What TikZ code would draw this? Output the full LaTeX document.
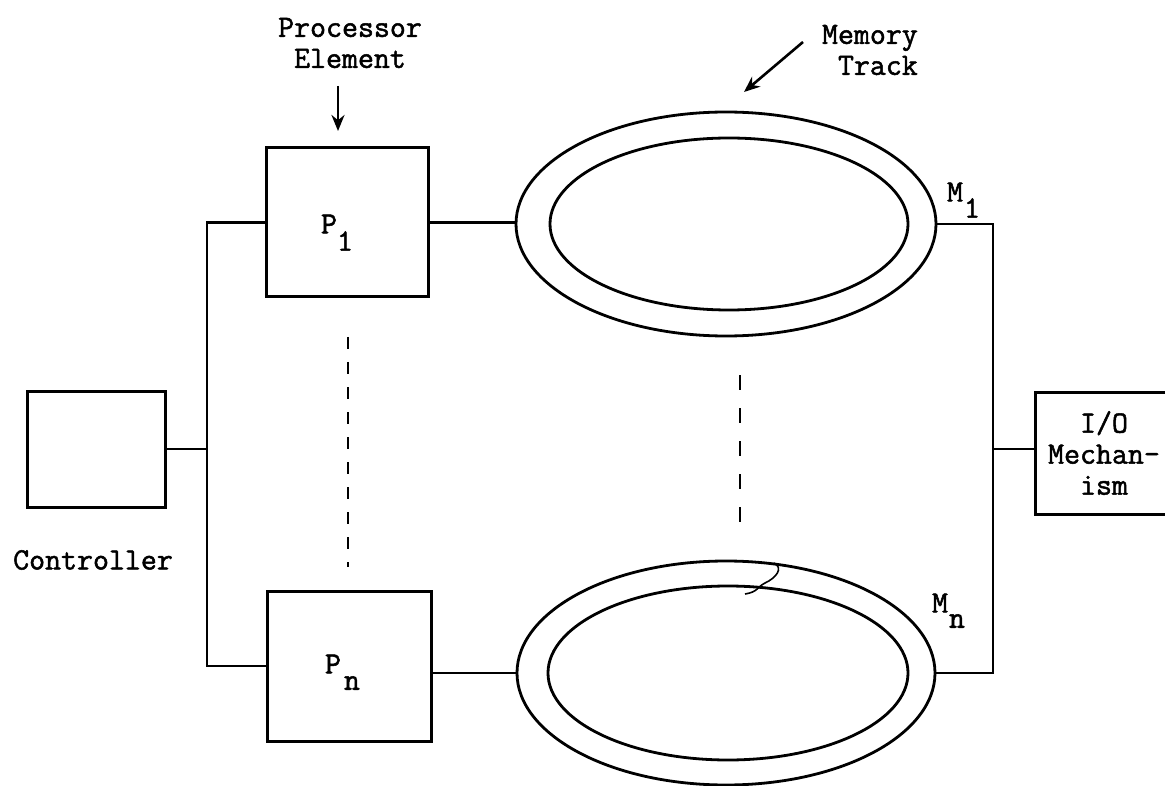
\documentclass[tikz,border=0pt]{standalone}
\usepackage{fontspec}
\newfontfamily\tw[FakeBold=1.6]{Latin Modern Mono}
\usetikzlibrary{shapes.geometric,arrows.meta}
\begin{document}
\begin{tikzpicture}[x=1pt,y=-1pt,
  box/.style={draw,line width=3pt,rectangle,inner sep=0pt},
  wire/.style={line width=2.5pt},
  trk/.style={draw,ellipse,line width=2.8pt,inner sep=0pt},
  txt/.style={font=\tw\fontsize{31}{31}\selectfont,inner sep=0pt},
  dots/.style={line width=2.8pt,dash pattern=on 12pt off 13pt},
  lbl/.style={-{Stealth[length=16pt,width=13pt]},line width=2.6pt}]
\useasboundingbox (0,0) rectangle (1165,786);
\clip (0,0) rectangle (1165,786);
% boxes
\node[box,minimum width=138pt,minimum height=116pt] (C) at (96,449) {};
\node[box,minimum width=162pt,minimum height=149pt] (P1) at (347,222.5) {};
\node[box,minimum width=164pt,minimum height=150pt] (Pn) at (349,666) {};
\node[box,minimum width=140pt,minimum height=122pt] (IO) at (1105,453) {};
% memory tracks
\node[trk,minimum width=420pt,minimum height=224pt] (M1o) at (726,224) {};
\node[trk,minimum width=358pt,minimum height=172pt] (M1i) at (729,224) {};
\node[trk,minimum width=418pt,minimum height=224pt] (Mno) at (726,673) {};
\node[trk,minimum width=360pt,minimum height=174pt] (Mni) at (728,673) {};
% bus coordinates
\coordinate (lbx) at (207,0);
\coordinate (rbx) at (993,0);
% wiring
\draw[wire] (P1.west) -- (P1.west -| lbx) -- (Pn.west -| lbx) -- (Pn.west);
\draw[wire] (C.east) -- (C.east -| lbx);
\draw[wire] (P1.east) -- (P1.east -| M1o.west);
\draw[wire] (Mno.west -| Pn.east) -- (Mno.west);
\draw[wire] (M1o.east) -- (M1o.east -| rbx) -- (Mno.east -| rbx) -- (Mno.east);
\draw[wire] (IO.west |- C.east) -- (C.east -| rbx);
% dashed continuation lines
\coordinate (d1a) at (348,337);
\coordinate (d1b) at (348,567);
\coordinate (d2a) at (740,375);
\coordinate (d2b) at (740,533);
\draw[dots] (d1a) -- (d1b);
\draw[dots,dash pattern=on 15pt off 18pt] (d2a) -- (d2b);
% scan crack on lower track
\coordinate (k1) at (774,563);
\coordinate (k2) at (745,594);
\draw[line width=1.6pt] (k1) .. controls (784,568) and (776,578) .. (765,583)
  .. controls (757,587) and (758,592) .. (k2);
% labels
\node[txt,align=center] (tPE) at (350,43) {Processor\\Element};
\node[txt,align=right,anchor=east] (tMT) at (918,50) {Memory\\Track};
\coordinate (aPEs) at (338,86);
\coordinate (aPEe) at (338,131);
\draw[lbl] (aPEs) -- (aPEe);
\coordinate (aMTs) at (803,42);
\coordinate (aMTe) at (744,92);
\draw[lbl] (aMTs) -- (aMTe);
\node[txt] (tC) at (93,560) {Controller};
\node[txt,align=center] (tIO) at (1104,453) {I/O\\Mechan-\\ism};
\node[txt] (tP1) at (329,224) {P};
\node[txt] (tP1s) at (345,241) {1};
\node[txt] (tPn) at (333,664) {P};
\node[txt] (tPns) at (352,683) {n};
\node[txt] (tM1) at (955,192) {M};
\node[txt] (tM1s) at (972,208) {1};
\node[txt] (tMn) at (940,603) {M};
\node[txt] (tMns) at (957,621) {n};
\end{tikzpicture}
\end{document}
